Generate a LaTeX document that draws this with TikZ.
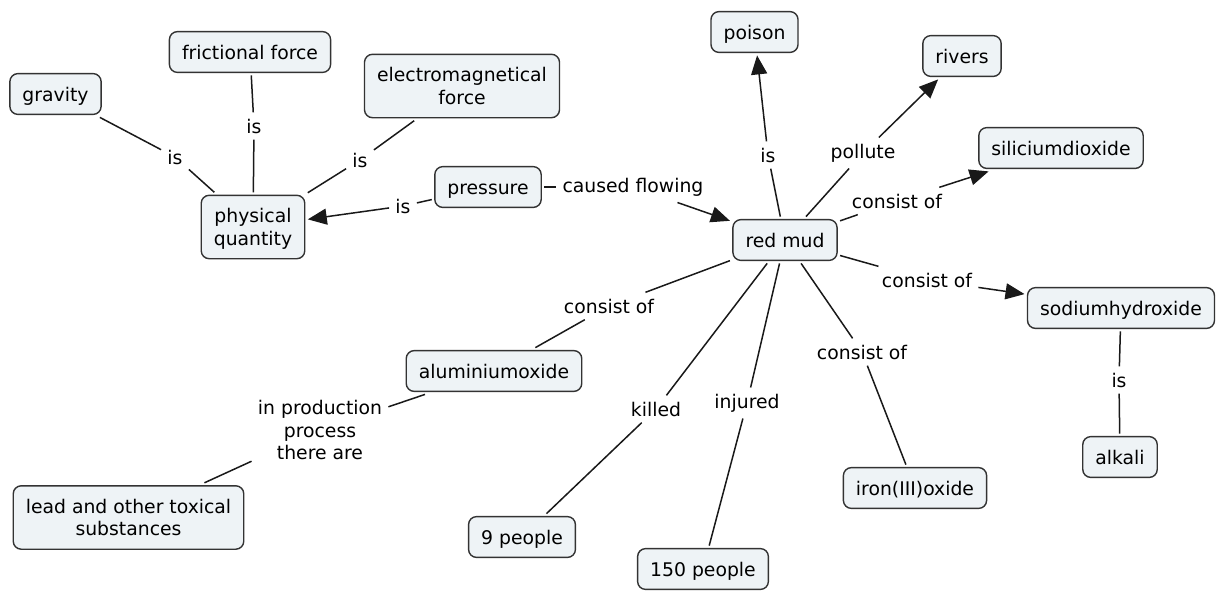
\documentclass[tikz,border=0pt]{standalone}
\usepackage{fontspec}
\setmainfont{DejaVu Sans}
\usetikzlibrary{arrows.meta}
\definecolor{cmapfill}{RGB}{238,243,246}
\tikzset{concept/.style={
    % The shape:
    rectangle,
    rounded corners=4pt,
    % The size:
    inner xsep=6.3pt,
    inner ysep=5.5pt,
    text height=8.2pt,
    text depth=1.2pt,
    outer sep=1.5pt,
    % The border:
    line width=0.7pt,
    draw=black!80,
    % The filling:
    fill=cmapfill,
    % Font
    align=center,
    font=\fontsize{9.4pt}{11.2pt}\selectfont
    },
    multiline/.style={
    concept,
    text height=19.4pt,
    text depth=1.1pt,
    inner ysep=5.6pt,
    },
    linkphrase/.style={
    inner sep=3pt,
    align=center,
    font=\fontsize{9.4pt}{11.3pt}\selectfont
    },
    every edge/.append style={line width=0.75pt, draw=black!90},
    arrowed/.style={-{Triangle[length=9.5pt,width=8pt]}},
}

\begin{document}
\begin{tikzpicture}[x=0.5pt,y=-0.5pt]
    \useasboundingbox (0,0) rectangle (1216,590);

    % concepts
    \node (gravity)   [concept]   at (55.5,94)   {gravity};
    \node (friction)  [concept]   at (250,52)    {frictional force};
    \node (emforce)   [multiline] at (462,86)    {electromagnetical\\force};
    \node (physq)     [multiline] at (253,227)   {physical\\quantity};
    \node (pressure)  [concept]   at (488,187)   {pressure};
    \node (redmud)    [concept]   at (785,240)   {red mud};
    \node (poison)    [concept]   at (754.5,32)  {poison};
    \node (rivers)    [concept]   at (962,56)    {rivers};
    \node (silicium)  [concept]   at (1061,148)  {siliciumdioxide};
    \node (sodium)    [concept]   at (1121,308)  {sodiumhydroxide};
    \node (alkali)    [concept]   at (1120,457)  {alkali};
    \node (ironoxide) [concept]   at (915,488)   {iron(III)oxide};
    \node (people150) [concept]   at (703,569)   {150 people};
    \node (people9)   [concept]   at (522,537)   {9 people};
    \node (alumina)   [concept]   at (494,371)   {aluminiumoxide};
    \node (lead)      [multiline] at (128.5,517.5) {lead and other toxical\\substances};

    % linking phrases
    \node (lgrav)    [linkphrase] at (175,157) {is};
    \node (lfric)    [linkphrase] at (254,126) {is};
    \node (lem)      [linkphrase] at (360,160) {is};
    \node (lpress)   [linkphrase] at (403,206) {is};
    \node (lflow)    [linkphrase] at (633,187) {caused flowing};
    \node (lpoison)  [linkphrase] at (768,155) {is};
    \node (lpollute) [linkphrase] at (863,153) {pollute};
    \node (lsil)     [linkphrase] at (897,201) {consist of};
    \node (lsod)     [linkphrase] at (927,280) {consist of};
    \node (liron)    [linkphrase] at (862,352) {consist of};
    \node (lkill)    [linkphrase] at (656,409) {killed};
    \node (linj)     [linkphrase] at (747,403) {injured};
    \node (lalk)     [linkphrase] at (1119,380) {is};
    \node (lalu)     [linkphrase] at (609,306) {consist of};
    \node (lprod)    [linkphrase] at (320,430) {in production\\process\\there are};

    % connections
    \path (gravity) edge (lgrav) (lgrav) edge (physq);
    \path (friction) edge (lfric) (lfric) edge (physq);
    \path (emforce) edge (lem) (lem) edge (physq);
    \path (pressure) edge (lpress) (lpress) edge[arrowed] (physq);
    \path (pressure) edge (lflow) (lflow) edge[arrowed] (redmud);
    \path (redmud) edge (lpoison) (lpoison) edge[arrowed] (poison);
    \path (redmud) edge (lpollute) (lpollute) edge[arrowed] (rivers);
    \path (redmud) edge (lsil) (lsil) edge[arrowed] (silicium);
    \path (redmud) edge (lsod) (lsod) edge[arrowed] (sodium);
    \path (sodium) edge (lalk) (lalk) edge (alkali);
    \path (redmud) edge (liron) (liron) edge (ironoxide);
    \path (redmud) edge (linj) (linj) edge (people150);
    \path (redmud) edge (lkill) (lkill) edge (people9);
    \path (redmud) edge (lalu) (lalu) edge (alumina);
    \path (alumina) edge (lprod) (lprod) edge (lead);
\end{tikzpicture}
\end{document}
